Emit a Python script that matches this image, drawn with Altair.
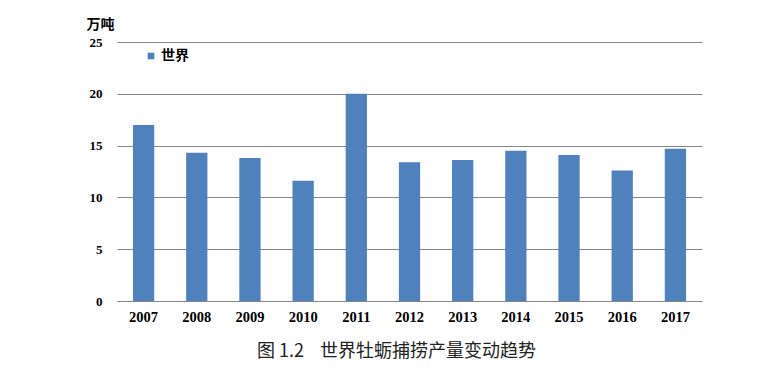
import altair as alt
import pandas as pd

years = ["2007", "2008", "2009", "2010", "2011", "2012", "2013", "2014", "2015", "2016", "2017"]
values = [17.0, 14.3, 13.8, 11.6, 20.0, 13.4, 13.6, 14.5, 14.1, 12.6, 14.7]
series = ["世界"] * len(years)

df = pd.DataFrame({"年份": years, "产量": values, "地区": series})

serif = "Liberation Serif"
cjk = "Noto Sans CJK SC"
nb = "\u00a0"
caption = "图" + nb + "1.2" + nb * 4 + "世界牡蛎捕捞产量变动趋势"

chart = alt.Chart(df).mark_bar(color="#4F81BD").encode(
    x=alt.X("年份:N", sort=years,
            scale=alt.Scale(paddingInner=0.6, paddingOuter=0.3),
            axis=alt.Axis(title=None, labelAngle=0, labelFont=serif, labelFontSize=14.5,
                          labelFontWeight="bold", labelColor="#000000", labelPadding=9,
                          ticks=False, domainColor="#868686", domainWidth=1)),
    y=alt.Y("产量:Q", scale=alt.Scale(domain=[0, 25], nice=False),
            axis=alt.Axis(values=[0, 5, 10, 15, 20, 25], title="万吨", titleAngle=0,
                          titleFont=cjk, titleFontSize=14, titleFontWeight="bold",
                          titleColor="#000000", titleX=-17, titleY=-18, titleAlign="center",
                          titleBaseline="middle",
                          labelFont=serif, labelFontSize=13, labelFontWeight="bold",
                          labelColor="#000000", labelPadding=15, ticks=False, domain=False,
                          grid=True, gridColor="#868686", gridWidth=1)),
    color=alt.Color("地区:N", scale=alt.Scale(range=["#4F81BD"]),
                    legend=alt.Legend(title=None, orient="none", legendX=27, legendY=7,
                                      padding=0, symbolType="square", symbolSize=44,
                                      symbolStrokeWidth=0,
                                      labelFont=cjk, labelFontSize=14, labelFontWeight="bold",
                                      labelColor="#000000", labelOffset=3)),
).properties(
    width=585,
    height=259,
    title=alt.TitleParams(caption, orient="bottom", anchor="middle",
                          font=cjk, fontSize=18, fontWeight="normal", color="#222222",
                          offset=19, dx=-13),
    autosize=alt.AutoSizeParams(type="none"),
    padding={"left": 117, "top": 42, "right": 71, "bottom": 70},
).configure_view(stroke=None)

chart.save("out.html", embed_options={"renderer": "svg", "actions": False})
